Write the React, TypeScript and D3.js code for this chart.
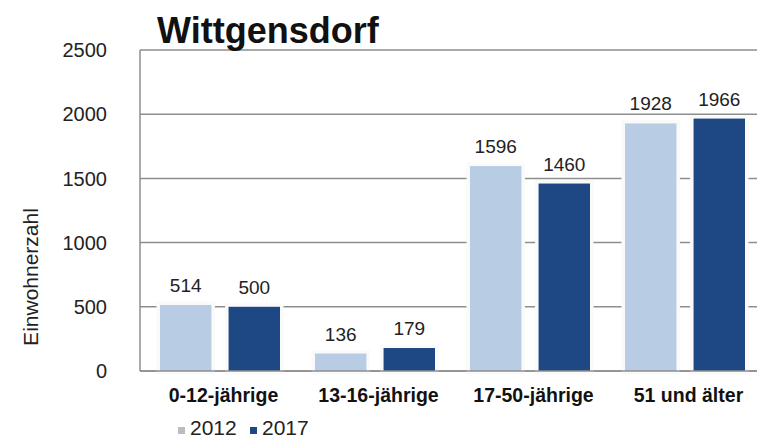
import React from "react";
import * as d3 from "d3";

// Einwohner nach Altersgruppen, Wittgensdorf
const categories = ["0-12-jährige", "13-16-jährige", "17-50-jährige", "51 und älter"];
const years = ["2012", "2017"];
const values2012 = [514, 136, 1596, 1928];
const values2017 = [500, 179, 1460, 1966];
const yTicks = [0, 500, 1000, 1500, 2000, 2500];

const W = 757;
const H = 438;
const margin = { top: 50, right: -3, bottom: 67, left: 140 };
const colors = ["#b8cce4", "#1d4883"];
const legendColors = ["#bdbdbd", "#1d4883"];
const font = "Liberation Sans, Arial, sans-serif";

export default function App() {
  const x = d3
    .scaleBand<string>()
    .domain(categories)
    .range([margin.left, W - margin.right]);
  const step = x.step();
  const inner = d3
    .scaleBand<string>()
    .domain(years)
    .range([20, step - 15])
    .paddingInner(0.25);

  const y = d3
    .scaleLinear()
    .domain([0, 2500])
    .range([H - margin.bottom, margin.top]);

  const series = [values2012, values2017];

  return (
    <svg
      width={W}
      height={H}
      style={{ position: "absolute", left: 0, top: 0, background: "#fff" }}
      fontFamily={font}
    >
      {/* Gitterlinien */}
      {yTicks.map((t) => (
        <line
          key={t}
          x1={margin.left}
          x2={W}
          y1={y(t)}
          y2={y(t)}
          stroke="#8e8e8e"
          strokeWidth={1.5}
        />
      ))}
      <line
        x1={margin.left}
        x2={margin.left}
        y1={y(2500)}
        y2={y(0)}
        stroke="#8e8e8e"
        strokeWidth={1.5}
      />
      {yTicks.map((t) => (
        <text
          key={"l" + t}
          x={107}
          y={y(t)}
          dy="0.36em"
          textAnchor="end"
          fontSize={20}
          fill="#222"
        >
          {t}
        </text>
      ))}

      {/* Balken */}
      {categories.map((c, i) => (
        <g key={c} transform={`translate(${x(c)},0)`}>
          {years.map((yr, k) => {
            const v = series[k][i];
            const bx = inner(yr)!;
            const bw = inner.bandwidth();
            return (
              <g key={yr}>
                <rect
                  x={bx}
                  y={y(v)}
                  width={bw}
                  height={y(0) - y(v)}
                  fill={colors[k]}
                  stroke="#fafafa"
                  strokeWidth={7}
                  style={{ paintOrder: "stroke" }}
                />
                <text
                  x={bx + bw / 2}
                  y={y(v) - 13}
                  textAnchor="middle"
                  fontSize={19}
                  fill="#222"
                >
                  {v}
                </text>
              </g>
            );
          })}
          <text
            x={step / 2 + 6}
            y={402}
            textAnchor="middle"
            fontSize={19.5}
            fontWeight="bold"
            fill="#111"
          >
            {c}
          </text>
        </g>
      ))}
      <line
        x1={margin.left}
        x2={W}
        y1={y(0)}
        y2={y(0)}
        stroke="#8e8e8e"
        strokeWidth={1.5}
      />

      {/* Titel */}
      <text x={157} y={43} fontSize={36} fontWeight="bold" fill="#111">
        Wittgensdorf
      </text>

      {/* Achsentitel */}
      <text
        transform="translate(38,277) rotate(-90)"
        textAnchor="middle"
        fontSize={21}
        fill="#222"
      >
        Einwohnerzahl
      </text>

      {/* Legende */}
      {years.map((yr, k) => (
        <g key={"lg" + yr} transform={`translate(${178 + k * 72},0)`}>
          <rect x={0} y={427} width={7} height={7} fill={legendColors[k]} />
          <text x={12} y={435} fontSize={21} fill="#222">
            {yr}
          </text>
        </g>
      ))}
    </svg>
  );
}
